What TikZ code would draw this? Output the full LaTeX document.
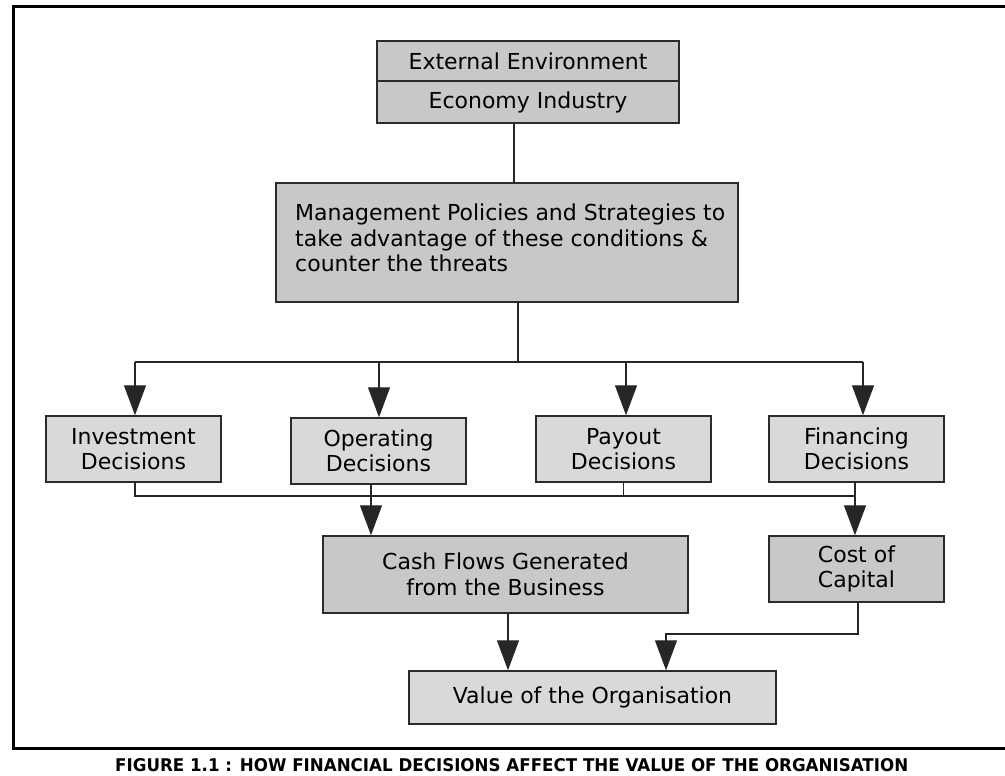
\documentclass[tikz,border=0pt]{standalone}
\usepackage{fontspec}
\setmainfont{DejaVu Sans}
\usepackage{graphicx}
\usetikzlibrary{arrows.meta}
\definecolor{boxdark}{HTML}{C8C8C8}
\definecolor{boxlight}{HTML}{D9D9D9}
\definecolor{edgegray}{HTML}{2B2B2B}

\begin{document}
\begin{tikzpicture}[x=1pt, y=-1pt,
		box/.style={draw=edgegray, line width=1.5pt, inner sep=0pt, align=center, font=\fontsize{22}{25.5}\selectfont},
		dark/.style={box, fill=boxdark},
		light/.style={box, fill=boxlight},
		link/.style={line width=1.3pt, draw=black!85},
		arr/.style={link, -{Triangle[width=22pt,length=30pt]}}]
		\useasboundingbox (0,0) rectangle (1005,776);
		% frame, open at the right edge
		\draw[line width=3pt] (1005,7) -- (13,7) -- (13,748) -- (1005,748);
		\node[dark, minimum width=302pt, minimum height=40pt] (ext)at(528,61) {External Environment};
		\node[dark, minimum width=302pt, minimum height=42pt] (econ)at(528,102) {Economy Industry};
		\node[dark, minimum width=462pt, minimum height=119pt] (mgmt)at(507,242.5) {};
		\node[align=left, inner sep=0pt, anchor=north west, font=\fontsize{22}{25.5}\selectfont] (mgmttext)at(295,204) {Management Policies and Strategies to\\take advantage of these conditions \&\\counter the threats};
		\node[light, minimum width=175pt, minimum height=66pt] (inv)at(133.5,449) {Investment\\Decisions};
		\node[light, minimum width=175pt, minimum height=66pt] (ope)at(378.5,451) {Operating\\Decisions};
		\node[light, minimum width=175pt, minimum height=66pt] (pay)at(623.5,449) {Payout\\Decisions};
		\node[light, minimum width=175pt, minimum height=66pt] (fin)at(856.5,449) {Financing\\Decisions};
		\node[dark, minimum width=365pt, minimum height=77pt] (cash)at(505.5,574.5) {Cash Flows Generated\\from the Business};
		\node[dark, minimum width=175pt, minimum height=66pt] (cost)at(856.5,569) {Cost of\\Capital};
		\node[light, minimum width=367pt, minimum height=53pt] (value)at(592.5,697.5) {Value of the Organisation};
		\node[inner sep=0pt, anchor=north west] (caption)at(115,758) {\resizebox{793pt}{13pt}{\bfseries FIGURE 1.1 : HOW FINANCIAL DECISIONS AFFECT THE VALUE OF THE ORGANISATION}};
		% connectors
		\coordinate (trunk) at (514,0);
		\coordinate (split) at (518,362);
		\coordinate (join) at (0,496);
		\coordinate (bend) at (666,634);
		\draw[link] (econ.south -| trunk) -- (mgmt.north -| trunk);
		\draw[link] (mgmt.south -| split) -- (split);
		\draw[link] ([xshift=1.5pt]inv.north |- split) -- ([xshift=6.5pt]fin.north |- split);
		\foreach \n/\dx in {inv/1.5, ope/0.5, pay/2.5, fin/6.5}
			\draw[arr] ([xshift=\dx pt]\n.north |- split) -- ([xshift=\dx pt]\n.north);
		\draw[link] ([xshift=1.5pt]inv.south) |- ([xshift=-1.5pt]fin.south |- join);
		\draw[link] (pay.south) -- (pay.south |- join);
		\draw[arr] ([xshift=-7.5pt]ope.south) -- ([xshift=-7.5pt]ope.south |- cash.north);
		\draw[arr] ([xshift=-1.5pt]fin.south) -- ([xshift=-1.5pt]fin.south |- cost.north);
		\draw[arr] ([xshift=2.5pt]cash.south) -- ([xshift=2.5pt]cash.south |- value.north);
		\draw[arr] ([xshift=1.5pt]cost.south) |- (bend) -- (bend |- value.north);
	\end{tikzpicture}
\end{document}
